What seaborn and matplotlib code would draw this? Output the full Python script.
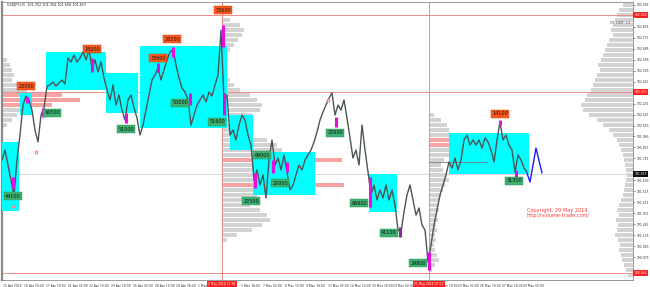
import numpy as np
import matplotlib
matplotlib.use("Agg")
import matplotlib.pyplot as plt
import matplotlib.transforms as mtransforms
import seaborn as sns

# ---------------- data ----------------
STEP_H = 4.425          # hours between sampled closes
close = [
    101.772, 101.854, 101.731, 101.608, 101.485, 101.772, 101.977, 102.223, 102.297, 102.265,
    102.182, 102.018, 101.920, 102.141, 102.199, 102.379, 102.388, 102.412, 102.379, 102.404,
    102.429, 102.396, 102.609, 102.577, 102.634, 102.577, 102.609, 102.659, 102.593, 102.675,
    102.527, 102.593, 102.494, 102.577, 102.445, 102.347, 102.265, 102.388, 102.223, 102.306,
    102.182, 102.100, 102.265, 102.306, 102.199, 102.117, 101.977, 102.059, 102.182, 102.306,
    102.429, 102.470, 102.527, 102.429, 102.511, 102.593, 102.659, 102.675, 102.552, 102.445,
    102.363, 102.330, 102.265, 102.059, 102.141, 102.223, 102.265, 102.306, 102.248, 102.330,
    102.297, 102.388, 102.470, 102.839, 102.265, 102.306, 101.977, 102.018, 101.936, 102.059,
    102.141, 102.100, 101.977, 101.895, 101.608, 101.690, 101.567, 101.649, 101.460, 101.772,
    101.936, 101.731, 101.788, 101.690, 101.813, 101.673, 101.526, 101.567, 101.649, 101.731,
    101.690, 101.772, 101.813, 101.854, 101.920, 102.002, 102.100, 102.166, 102.223, 102.281,
    102.322, 102.141, 102.223, 102.182, 102.265, 102.117, 101.953, 101.788, 101.854, 101.731,
    102.059, 101.854, 101.673, 101.485, 101.567, 101.444, 101.526, 101.460, 101.567, 101.444,
    101.526, 101.402, 101.197, 101.181, 101.345, 101.485, 101.567, 101.444, 101.320, 101.378,
    101.238, 101.197, 100.935, 101.074, 101.238, 101.361, 101.485, 101.567, 101.649, 101.756,
    101.706, 101.788, 101.690, 101.772, 101.936, 101.977, 101.895, 101.936, 101.895, 101.936,
    101.870, 101.953, 101.920, 101.854, 101.756, 101.936, 102.084, 101.936, 101.977, 101.895,
    101.854, 101.673, 101.813, 101.772, 101.706, 101.673,
]

LABEL_STEP_H = 32
x_labels = ["15 Apr 2014", "16 Apr 10:00", "17 Apr 18:00", "21 Apr 02:00", "22 Apr 10:00",
            "23 Apr 18:00", "25 Apr 02:00", "28 Apr 10:00", "29 Apr 18:00", "1 May 02:00",
            "", "5 May 18:00", "7 May 02:00", "8 May 10:00", "9 May 18:00",
            "13 May 02:00", "14 May 10:00", "15 May 18:00", "19 May 02:00", "",
            "21 May 18:00", "23 May 02:00", "26 May 10:00", "27 May 18:00", "29 May 02:00"]

# cyan zones
zone_start = [0.0, 26.5, 64.9, 153.4, 203.5, 336.3, 370.2, 541.3, 659.3]
zone_end = [25.1, 44.2, 153.4, 200.6, 331.9, 370.2, 461.7, 582.6, 777.3]
zone_low = [101.353, 102.141, 102.347, 102.158, 102.035, 101.854, 101.485, 101.345, 101.657]
zone_high = [101.920, 102.322, 102.659, 102.486, 102.708, 102.141, 101.838, 101.657, 101.994]

# high-volume bars
mb_h = [16.2, 36.9, 60.5, 132.7, 182.9, 230.1, 252.2, 277.3, 326.0, 327.4,
        373.2, 399.7, 420.4, 492.6, 542.8, 587.0, 629.8, 734.5, 758.1]
mb_lo = [101.542, 102.240, 102.125, 102.494, 102.076, 102.494, 102.618, 102.223, 102.700, 102.141,
         101.542, 101.665, 101.673, 102.043, 101.386, 101.140, 100.869, 102.059, 101.608]
mb_hi = [101.632, 102.289, 102.199, 102.609, 102.158, 102.568, 102.700, 102.322, 102.880, 102.322,
         101.665, 101.772, 101.755, 102.125, 101.632, 101.222, 101.017, 102.100, 101.690]
mb_dark = [False] * 15 + [True] + [False] * 3

# volume labels
vol_text = ["23000", "18000", "33900", "28200", "73600", "14100",
            "44100", "16500", "51000", "50000", "51600", "69000", "20000", "22500",
            "22600", "66600", "41100", "29800", "31300"]
vol_h = [35.4, 132.7, 230.1, 250.7, 326.0, 734.5,
         16.2, 73.7, 182.9, 262.5, 317.1, 383.5, 410.0, 367.3,
         491.1, 526.5, 570.8, 613.6, 755.2]
vol_p = [102.379, 102.683, 102.609, 102.765, 103.003, 102.150,
         101.476, 102.158, 102.026, 102.240, 102.084, 101.813, 101.583, 101.435,
         101.994, 101.419, 101.173, 100.926, 101.600]
vol_side = ["top"] * 6 + ["bottom"] * 13

# volume profiles (relative volume per price bin)
PRICE_BINS = np.round(103.044 - 0.041 * np.arange(55), 3)
vp_right = [10, 14, 16, 18, 20, 22, 20, 24, 26, 28, 30, 32, 35, 33, 36, 38, 40, 42, 46, 48,
            52, 50, 44, 36, 30, 24, 20, 16, 14, 12, 10, 9, 8, 7, 6, 7, 8, 9, 10, 12,
            14, 16, 14, 17, 15, 16, 18, 15, 13, 14, 12, 11, 9, 7, 5]
vp_left = [0] * 11 + [5, 8, 10, 12, 10, 15, 25, 60, 78, 50, 20, 15, 10, 5] + [0] * 30
vp_left_poc = [18, 19, 20]
vp_m1 = [0, 0, 0, 8, 18, 22, 20, 16, 12, 8, 6, 6, 5, 5, 6, 8, 12, 18, 28, 35,
         40, 38, 30, 20, 18, 20, 28, 45, 55, 60, 70, 120, 80, 60, 55, 50, 122, 40, 35, 30,
         28, 38, 45, 48, 40, 30, 15, 5, 0, 0, 0, 0, 0, 0, 0]
vp_m1_poc = [31, 36]
vp_m2 = [0] * 22 + [5, 12, 18, 20, 22, 30, 32, 25, 20, 15, 12, 14, 18, 20, 16, 14, 12, 10,
                    9, 10, 8, 9, 7, 8, 6, 7, 5, 6, 8, 10, 6, 3, 0]
vp_m2_poc = [27, 28]
vp_m1_anchor = 324.5
vp_m2_anchor = 629.8

# levels
red_levels = [102.962, 102.330, 100.844]
last_price = 101.657
event_h = [324.5, 629.8]
event_tags = ["2 May 2014 15:30", "21 May 2014 05:00"]
poc_line = (629.8, 715.3, 101.756)
forecast_h = [774.3, 778.8, 787.6, 796.5]
forecast_p = [101.665, 101.591, 101.870, 101.665]
star_h = [50.1, 16.2, 480.8]
star_p = [101.838, 101.394, 102.265]

XMAX = 930.7
YMIN, YMAX = 100.787, 103.069
VP_SCALE = 1.475

# ---------------- plot ----------------
sns.set_style("white")
plt.rcParams['font.family'] = ['DejaVu Sans']

fig = plt.figure(figsize=(6.5, 2.87), dpi=100)
ax = fig.add_axes([2 / 650, 7 / 287, 631 / 650, 278 / 287])
ax.set_xlim(0, XMAX)
ax.set_ylim(YMIN, YMAX)

GRAY = "#d2d2d2"
PINK = "#f5a3a3"
bh = 0.029

def profile(vals, anchor, pocs, right=False):
    vals = np.asarray(vals, dtype=float)
    w = vals * VP_SCALE
    cols = [PINK if i in pocs else GRAY for i in range(len(vals))]
    left = (XMAX - w) if right else np.full(len(vals), anchor)
    ax.barh(PRICE_BINS, w, left=left, height=bh, color=cols, linewidth=0, zorder=1)

profile(vp_right, XMAX, [], right=True)
profile(vp_left, 0.0, vp_left_poc)
profile(vp_m1, vp_m1_anchor, vp_m1_poc)
profile(vp_m2, vp_m2_anchor, vp_m2_poc)

# horizontal / vertical reference lines
for lv in red_levels:
    ax.axhline(lv, color="#f08a8a", lw=0.7, zorder=2)
ax.axhline(last_price, color="#d8d8d8", lw=0.7, zorder=2)
for eh in event_h:
    ax.axvline(eh, color="#f08a8a", lw=0.7, zorder=2)

# zones
zs = np.array(zone_start); ze = np.array(zone_end)
zl = np.array(zone_low); zhh = np.array(zone_high)
ax.bar(zs, zhh - zl, width=ze - zs, bottom=zl, align="edge", color="#00ffff",
       linewidth=0, zorder=3)

ax.plot([poc_line[0], poc_line[1]], [poc_line[2], poc_line[2]], color="#777777", lw=0.6, zorder=4)

# price
hours = np.arange(len(close)) * STEP_H
sns.lineplot(x=hours, y=close, ax=ax, color="#4a5555", linewidth=1.0,
             estimator=None, sort=False, zorder=5)

# high volume bars
for h, lo, hi, dk in zip(mb_h, mb_lo, mb_hi, mb_dark):
    ax.vlines(h, lo, hi, color="#8a2a9a" if dk else "#e010e0", lw=2.2, zorder=6)

# forecast
sns.lineplot(x=forecast_h, y=forecast_p, ax=ax, color="#1a1aff", linewidth=1.0,
             estimator=None, sort=False, zorder=6)

ax.plot(star_h, star_p, linestyle="none", marker="*", ms=3, mfc="white",
        mec="#e07a7a", mew=0.5, zorder=6)

# volume labels
for t, h, p, s in zip(vol_text, vol_h, vol_p, vol_side):
    if s == "top":
        fc, ec = "#ff5a1e", "#c23a00"
    else:
        fc, ec = "#3cb371", "#2a8a55"
    ax.text(h, p, t, fontsize=3.5, ha="center", va="center", color="#111111", zorder=8,
            bbox=dict(boxstyle="square,pad=0.25", fc=fc, ec=ec, lw=0.3))

# texts
ax.text(0.008, 0.995, "USDJPY,H1  101.752 101.764 101.658 101.657", transform=ax.transAxes,
        fontsize=2.4, va="top", ha="left", color="#222222", zorder=9)
ax.text(926, 102.897, "VP GMT +2", fontsize=2.6, ha="right", va="center", color="#555555", zorder=9)
ax.text(774, 101.333, "Copyright, 29 May 2014\nhttp://volume-trade.com/", fontsize=3.6,
        ha="left", va="center", color="#ff3b3b", linespacing=1.0, zorder=9)

# axes styling
for sp in ax.spines.values():
    sp.set_color("#8a8a8a")
    sp.set_linewidth(0.6)
ax.spines["left"].set_linewidth(1.6)

ax.yaxis.tick_right()
yt_all = np.round(np.arange(100.795, 103.06, 0.09), 3)
tagged = red_levels + [last_price]
yt = [v for v in yt_all if min(abs(v - t) for t in tagged) > 0.05 and v > YMIN + 0.02]
ax.set_yticks(yt)
ax.set_yticklabels([f"{v:.3f}" for v in yt])
ax.tick_params(axis="y", labelsize=2.2, length=1.5, width=0.4, pad=0.8, colors="#333333")

xt = np.arange(len(x_labels)) * LABEL_STEP_H + 1
ax.set_xticks(xt)
ax.set_xticklabels(x_labels, ha="left")
ax.tick_params(axis="x", labelsize=2.2, length=2.5, width=0.4, pad=0.3, colors="#333333")
ax.set_xlabel(""); ax.set_ylabel("")

# tags on axes
ytrans = mtransforms.blended_transform_factory(ax.transAxes, ax.transData)
for lv in red_levels:
    ax.text(1.002, lv, f"{lv:.3f}", transform=ytrans, fontsize=2.2, ha="left", va="center",
            color="white", zorder=10, clip_on=False,
            bbox=dict(boxstyle="square,pad=0.25", fc="#ff2020", ec="none"))
ax.text(1.002, last_price, f"{last_price:.3f}", transform=ytrans, fontsize=2.2, ha="left",
        va="center", color="white", zorder=10, clip_on=False,
        bbox=dict(boxstyle="square,pad=0.25", fc="#111111", ec="none"))

xtrans = mtransforms.blended_transform_factory(ax.transData, ax.transAxes)
for eh, tg in zip(event_h, event_tags):
    ax.text(eh, -0.006, tg, transform=xtrans, fontsize=2.2, ha="center", va="top",
            color="white", zorder=10, clip_on=False,
            bbox=dict(boxstyle="square,pad=0.3", fc="#ff2020", ec="none"))

fig.savefig("out.png", dpi=100, facecolor="white")
